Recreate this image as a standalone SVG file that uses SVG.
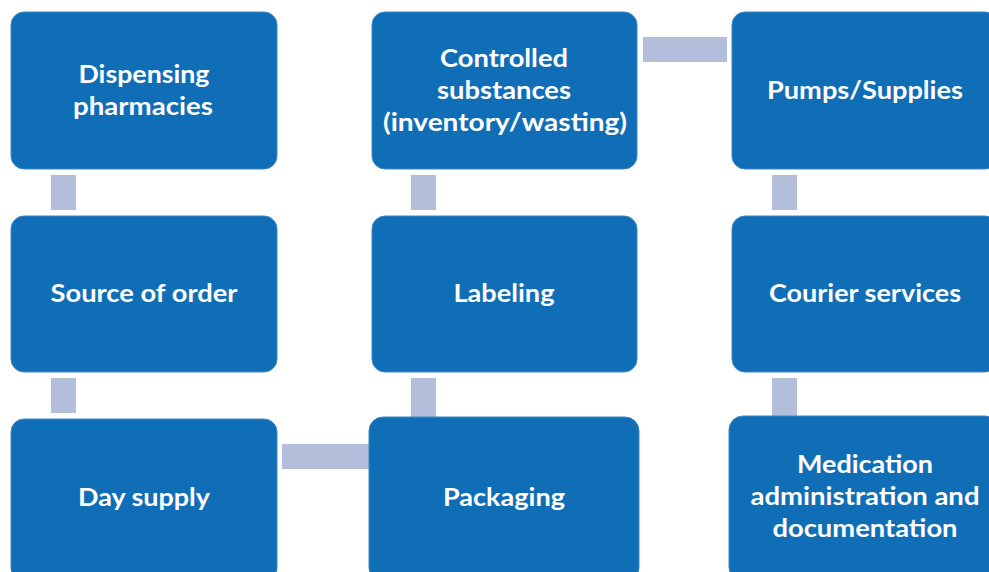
<svg xmlns="http://www.w3.org/2000/svg" width="989" height="572" viewBox="0 0 989 572">
<style>
.node{fill:#106EB7;stroke:#3d86c6;stroke-width:1}
.conn{fill:#B3BFDA}
.t{font-family:Lato,"Open Sans","Liberation Sans",sans-serif;font-weight:700;font-size:24px;fill:#ffffff;text-anchor:middle}
</style>
<rect width="989" height="572" fill="#ffffff"/>
<g id="connectors">
<rect class="conn" x="51" y="175" width="25" height="35"/>
<rect class="conn" x="51" y="378" width="25" height="35"/>
<rect class="conn" x="282" y="444" width="90" height="25"/>
<rect class="conn" x="411" y="378" width="25" height="42"/>
<rect class="conn" x="411" y="175" width="25" height="35"/>
<rect class="conn" x="643" y="37" width="84" height="25"/>
<rect class="conn" x="772" y="175" width="25" height="35"/>
<rect class="conn" x="772" y="378" width="25" height="42"/>
</g>
<g id="n-dispensing">
<rect class="node" x="11" y="12" width="266" height="157" rx="13"/>
<text class="t" x="144" y="83" textLength="131" lengthAdjust="spacingAndGlyphs">Dispensing</text>
<text class="t" x="143" y="115" textLength="140" lengthAdjust="spacingAndGlyphs">pharmacies</text>
</g>
<g id="n-source">
<rect class="node" x="11" y="216" width="266" height="156" rx="13"/>
<text class="t" x="144" y="302" textLength="187" lengthAdjust="spacingAndGlyphs">Source of order</text>
</g>
<g id="n-day">
<rect class="node" x="11" y="419" width="266" height="162" rx="13"/>
<text class="t" x="144" y="506" textLength="132" lengthAdjust="spacingAndGlyphs">Day supply</text>
</g>
<g id="n-controlled">
<rect class="node" x="372" y="12" width="265" height="157" rx="13"/>
<text class="t" x="504" y="67" textLength="128" lengthAdjust="spacingAndGlyphs">Controlled</text>
<text class="t" x="504" y="99" textLength="134" lengthAdjust="spacingAndGlyphs">substances</text>
<text class="t" x="505" y="131" textLength="244" lengthAdjust="spacingAndGlyphs">(inventory/wasting)</text>
</g>
<g id="n-labeling">
<rect class="node" x="372" y="216" width="265" height="156" rx="13"/>
<text class="t" x="504" y="302" textLength="101" lengthAdjust="spacingAndGlyphs">Labeling</text>
</g>
<g id="n-packaging">
<rect class="node" x="369" y="417" width="270" height="165" rx="14"/>
<text class="t" x="504" y="506" textLength="122" lengthAdjust="spacingAndGlyphs">Packaging</text>
</g>
<g id="n-pumps">
<rect class="node" x="732" y="12" width="266" height="157" rx="13"/>
<text class="t" x="865" y="99" textLength="196" lengthAdjust="spacingAndGlyphs">Pumps/Supplies</text>
</g>
<g id="n-courier">
<rect class="node" x="732" y="216" width="266" height="156" rx="13"/>
<text class="t" x="865" y="302" textLength="192" lengthAdjust="spacingAndGlyphs">Courier services</text>
</g>
<g id="n-medication">
<rect class="node" x="729" y="416" width="270" height="165" rx="14"/>
<text class="t" x="865" y="473" textLength="136" lengthAdjust="spacingAndGlyphs">Medication</text>
<text class="t" x="865" y="505" textLength="229" lengthAdjust="spacingAndGlyphs">administration and</text>
<text class="t" x="865" y="537" textLength="185" lengthAdjust="spacingAndGlyphs">documentation</text>
</g>
</svg>
